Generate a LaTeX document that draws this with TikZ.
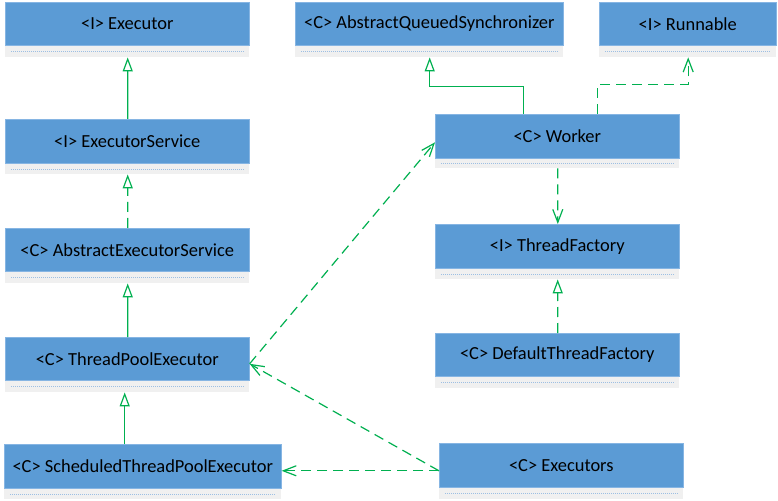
\documentclass[tikz,border=0pt]{standalone}
\usepackage{fontspec}
\setmainfont{Carlito}
\usetikzlibrary{arrows.meta,calc}
\definecolor{boxblue}{HTML}{5B9BD5}
\definecolor{boxedge}{HTML}{86B5E3}
\definecolor{stripgrey}{HTML}{F0F0F0}
\definecolor{dotblue}{HTML}{9DBFE3}
\definecolor{lgreen}{HTML}{00B050}
\tikzset{
  cls/.style={fill=boxblue, draw=boxedge, line width=0.6bp, inner sep=0pt, anchor=north west,
    font=\fontsize{18.5}{22}\selectfont, text=black},
  strip/.style={fill=stripgrey, draw=none, inner sep=0pt, anchor=north west},
  dotline/.style={draw=dotblue, line width=0.8bp, dash pattern=on 1bp off 1bp},
  link/.style={draw=lgreen, color=lgreen, line width=1.2bp},
  dsh/.style={dash pattern=on 10bp off 6bp},
  gen/.style={link, -{Triangle[open, length=14bp, width=10bp]}},
  real/.style={link, dsh, -{Triangle[open, length=14bp, width=10bp]}},
  dep/.style={link, dsh, -{Straight Barb[length=13bp, width=10bp]}},
}
% \umlbox{name}{x1}{y1}{x2}{y2}{y3}{text}
\newcommand{\umlbox}[7]{%
  \pgfmathsetmacro{\bw}{#4-#2}%
  \pgfmathsetmacro{\bh}{#5-#3}%
  \pgfmathsetmacro{\sh}{#6-#5}%
  \node[strip, minimum width=\bw bp, minimum height=\sh bp] (#1-s) at (#2,#5) {};
  \node[cls, minimum width=\bw bp, minimum height=\bh bp] (#1) at (#2,#3) {#7};
  \draw[dotline] ([xshift=6bp,yshift=-0.5bp]#1-s.west) -- ([xshift=-6bp,yshift=-0.5bp]#1-s.east);
}
\begin{document}
\begin{tikzpicture}[x=1bp, y=-1bp]
\useasboundingbox (0,0) rectangle (778,501);
\fill[white] (0,0) rectangle (778,501);
\umlbox{exe}{5}{2}{249}{45}{57}{<I> Executor}
\umlbox{exs}{5}{119}{249}{163}{174}{<I> ExecutorService}
\umlbox{aes}{5}{228}{249}{271}{283}{<C> AbstractExecutorService}
\umlbox{tpe}{5}{337}{249}{380}{392}{<C> ThreadPoolExecutor}
\umlbox{stpe}{4}{444}{281}{488}{499}{<C> ScheduledThreadPoolExecutor}
\umlbox{aqs}{295}{2}{563}{45}{57}{<C> AbstractQueuedSynchronizer}
\umlbox{run}{599}{2}{776}{45}{57}{<I> Runnable}
\umlbox{wrk}{435}{114}{679}{158}{168}{<C> Worker}
\umlbox{tf}{435}{224}{679}{268}{279}{<I> ThreadFactory}
\umlbox{dtf}{435}{333}{679}{376}{388}{<C> DefaultThreadFactory}
\umlbox{exc}{439}{443}{683}{487}{499}{<C> Executors}

% inheritance chain on the left
\draw[gen] ([xshift=0.5bp]exs.north) -- ([xshift=0.5bp]exe-s.south);
\draw[real] ([xshift=0.5bp]aes.north) -- ([xshift=0.5bp]exs-s.south);
\draw[gen] ([xshift=0.5bp]tpe.north) -- ([xshift=0.5bp]aes-s.south);
\draw[gen] ([xshift=-2.5bp]tpe-s.south |- stpe.north) -- ([xshift=-2.5bp]tpe-s.south);

% Worker
\draw[gen] ([xshift=-33.5bp]wrk.north) -- ++(0,-27.5) -| ([xshift=0.5bp]aqs-s.south);
\draw[dep] ([xshift=40.5bp]wrk.north) -- ++(0,-29.5) -| ([xshift=0.5bp]run-s.south);
\draw[dep] ([xshift=0.5bp]wrk-s.south) -- ([xshift=0.5bp]tf.north);
\draw[real] ([xshift=0.5bp]dtf.north) -- ([xshift=0.5bp]tf-s.south);

% diagonal dependencies
\draw[dep] ([yshift=-5bp]tpe.east) -- ([yshift=-6bp]wrk.west);
\coordinate (excport) at ([yshift=-5.5bp]exc.west);
\draw[dep] (excport) -- ([yshift=-5bp]tpe.east);
\draw[dep] (excport) -- (excport -| stpe.east);
\end{tikzpicture}
\end{document}
